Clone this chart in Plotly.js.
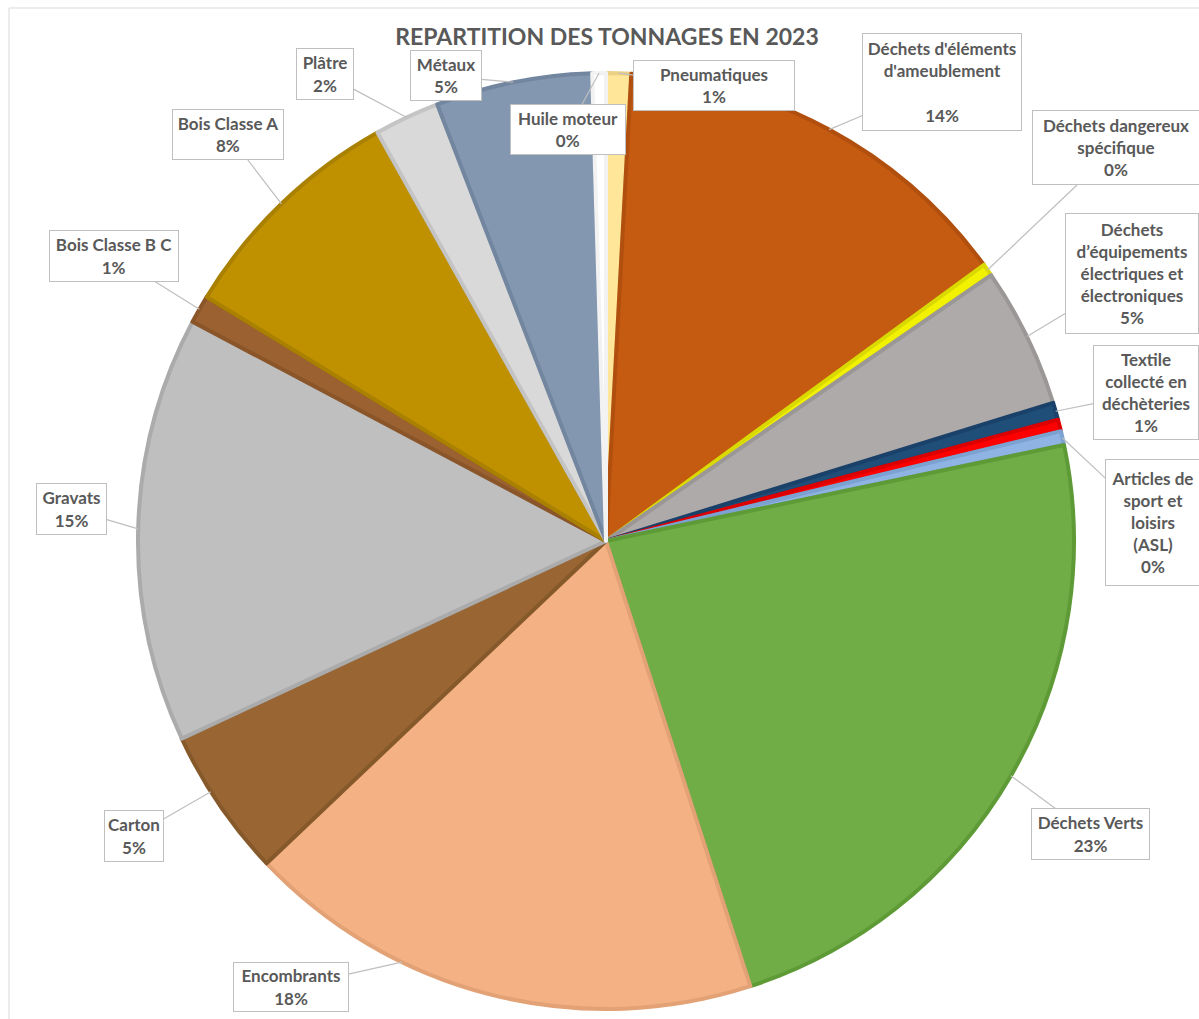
<!DOCTYPE html>
<html>
<head>
<meta charset="utf-8">
<script src="https://cdn.plot.ly/plotly-3.0.1.min.js"></script>
<style>
  html, body { margin: 0; padding: 0; background: #fff; overflow: hidden; }
  #chart { width: 1199px; height: 1019px; }
</style>
</head>
<body>
<div id="chart"></div>
<script>
// data (shares in %, clockwise from 12 o'clock)
const categories = [
  'Pneumatiques',
  "Déchets d'éléments d'ameublement",
  'Déchets dangereux spécifique',
  'Déchets d’équipements électriques et électroniques',
  'Textile collecté en déchèteries',
  '',
  'Articles de sport et loisirs (ASL)',
  'Déchets Verts',
  'Encombrants',
  'Carton',
  'Gravats',
  'Bois Classe B C',
  'Bois Classe A',
  'Plâtre',
  'Métaux',
  'Huile moteur'
];
const shares = [0.86, 14.1, 0.42, 4.85, 0.6, 0.4, 0.48, 23.3, 17.9, 5.15, 14.7, 0.97, 8.15, 2.25, 5.4, 0.47];

// how each label is wrapped in its callout
const labelText = [
  'Pneumatiques',
  "Déchets d'éléments<br>d'ameublement<br>",
  'Déchets dangereux<br>spécifique',
  'Déchets<br>d’équipements<br>électriques et<br>électroniques',
  'Textile<br>collecté en<br>déchèteries',
  null,
  'Articles de<br>sport et<br>loisirs<br>(ASL)',
  'Déchets Verts',
  'Encombrants',
  'Carton',
  'Gravats',
  'Bois Classe B C',
  'Bois Classe A',
  'Plâtre',
  'Métaux',
  'Huile moteur'
];

// styles
const fillColors = ['#FFE699', '#C55A11', '#F2F200', '#AEAAAA', '#1F4E79', '#FF0000', '#8FB4E3', '#70AD47',
  '#F4B183', '#996633', '#BFBFBF', '#9C6130', '#BF9000', '#D9D9D9', '#8497B0', '#FFFFFF'];
const edgeColors = ['#EBCF82', '#B14F0F', '#DADA00', '#9B9797', '#1A4169', '#DD0000', '#7CA2D2', '#5E9B37',
  '#E2A276', '#86592B', '#ABABAB', '#8A5528', '#A98000', '#C4C4C4', '#7286A0', '#F2F2F2'];

// callout boxes: centre (px), size (px), where the pointer hits the slice (0..1 of its arc)
const boxCenter = [[714, 86], [942, 82], [1116, 148], [1132, 273], [1146, 393], null, [1152, 522], [1090, 834],
  [291, 987], [134, 836], [71, 509], [114, 256], [228, 134], [325, 74], [446, 76], [568, 130]];
const boxSize = [[162, 51], [160, 98], [168, 75], [134, 121], [106, 95], null, [95, 127], [119, 52],
  [116, 50], [60, 52], [71, 52], [130, 52], [112, 51], [58, 52], [72, 51], [116, 51]];
const tipFrac = [0.5, 0.5, 0.5, 0.5, 0.5, null, 0.5, 0.5, 0.68, 0.6, 0.5, 0.5, 0.5, 0.5, 0.5, 0.5];

const W = 1199, H = 1019;
const CX = 606, CY = 541, R = 468;
const FONT = 'Lato, "Open Sans", sans-serif';

const total = shares.reduce((a, b) => a + b, 0);

const trace = {
  type: 'pie',
  labels: categories,
  values: shares,
  sort: false,
  direction: 'clockwise',
  rotation: 0,
  textinfo: 'none',
  hoverinfo: 'label+percent',
  marker: { colors: fillColors, line: { color: edgeColors, width: 4 } },
  domain: { x: [(CX - R) / W, (CX + R) / W], y: [1 - (CY + R) / H, 1 - (CY - R) / H] },
  showlegend: false
};

// callouts, pointer computed from the slice angles
const annotations = [];
let cum = 0;
shares.forEach((v, i) => {
  const start = cum / total * 360;
  cum += v;
  if (!labelText[i]) return;
  const ang = (start + tipFrac[i] * v / total * 360) * Math.PI / 180;
  const px = CX + R * Math.sin(ang);
  const py = CY - R * Math.cos(ang);
  const pct = Math.round(v / total * 100) + '%';
  const [bx, by] = boxCenter[i];
  const [bw, bh] = boxSize[i];
  annotations.push({
    xref: 'paper', yref: 'paper',
    x: px / W, y: 1 - py / H,
    ax: bx - px, ay: by - py,
    text: '<b>' + labelText[i] + '<br>' + pct + '</b>',
    showarrow: true, arrowhead: 0, arrowwidth: 1.2, arrowcolor: '#BFBFBF',
    bgcolor: '#FFFFFF', bordercolor: '#BFBFBF', borderwidth: 1, borderpad: 1,
    width: bw - 4, height: bh - 4,
    align: 'center', valign: 'middle',
    font: { family: FONT, size: 17, color: '#595959' }
  });
});

const layout = {
  width: W, height: H,
  margin: { l: 0, r: 0, t: 0, b: 0 },
  paper_bgcolor: '#FFFFFF',
  title: {
    text: '<b>REPARTITION DES TONNAGES EN 2023</b>',
    x: 607 / W, xanchor: 'center',
    y: 1 - 37 / H, yanchor: 'middle', yref: 'container',
    font: { family: FONT, size: 23, color: '#595959' }
  },
  annotations: annotations,
  shapes: [{
    type: 'rect', xref: 'paper', yref: 'paper',
    x0: 9 / W, y0: -0.05, x1: 1.05, y1: 1 - 8 / H,
    line: { color: '#D9D9D9', width: 1 }
  }],
  showlegend: false
};

Plotly.newPlot('chart', [trace], layout, { staticPlot: true });
</script>
</body>
</html>
